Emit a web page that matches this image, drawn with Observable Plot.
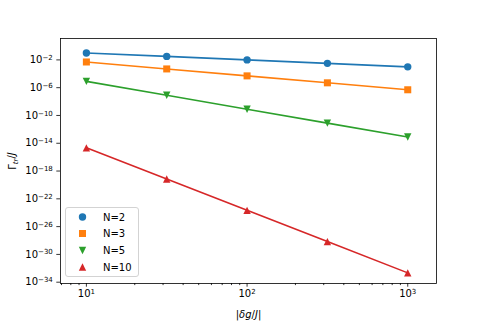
<!DOCTYPE html>
<html><head><meta charset="utf-8">
<script src="https://cdn.jsdelivr.net/npm/d3@7"></script>
<script src="https://cdn.jsdelivr.net/npm/@observablehq/plot@0.6"></script>
<style>
body{margin:0;background:#fff;}
#wrap{position:relative;width:485px;height:323px;font-family:"DejaVu Sans",sans-serif;}
#legend{position:absolute;left:65px;top:207px;width:74px;height:70px;border:1px solid #d3d3d3;border-radius:3px;background:rgba(255,255,255,0.8);box-sizing:border-box;}
#legend svg{position:absolute;left:-1px;top:-1px;}
</style></head><body><div id="wrap"></div>
<script>
// ---- data ----
const xValues = [10, 31.62, 100, 316.2, 1000];
const seriesNames = ["N=2", "N=3", "N=5", "N=10"];
const yN2 = [1.0e-1, 3.2e-2, 1.0e-2, 3.2e-3, 1.0e-3];
const yN3 = [5.0e-3, 5.0e-4, 5.0e-5, 5.0e-6, 5.0e-7];
const yN5 = [8.0e-6, 8.0e-8, 8.0e-10, 8.0e-12, 8.0e-14];
const yN10 = [2.2e-15, 7.0e-20, 2.2e-24, 7.0e-29, 2.2e-33];
const seriesColors = ["#1f77b4", "#ff7f0e", "#2ca02c", "#d62728"];
const xTickValues = [10, 100, 1000];
const xMinorTickValues = [7, 8, 9, 20, 30, 40, 50, 60, 70, 80, 90, 200, 300, 400, 500, 600, 700, 800, 900];
const yTickValues = [1e-2, 1e-6, 1e-10, 1e-14, 1e-18, 1e-22, 1e-26, 1e-30, 1e-34];

// ---- table ----
const ySeries = [yN2, yN3, yN5, yN10];
const rows = [];
seriesNames.forEach((s, i) => xValues.forEach((x, j) => rows.push({series: s, x, y: ySeries[i][j]})));

// ---- marker shapes (matplotlib-like) ----
const rad = size => Math.sqrt(size / Math.PI);
const symCircle = {draw(c, size) { const r = rad(size); c.moveTo(r, 0); c.arc(0, 0, r, 0, 2 * Math.PI); }};
const symSquare = {draw(c, size) { const r = rad(size) * 0.95; c.rect(-r, -r, 2 * r, 2 * r); }};
const symDown = {draw(c, size) { const r = rad(size); c.moveTo(0, r); c.lineTo(-r, -r); c.lineTo(r, -r); c.closePath(); }};
const symUp = {draw(c, size) { const r = rad(size); c.moveTo(0, -r); c.lineTo(-r, r); c.lineTo(r, r); c.closePath(); }};
const symbols = [symCircle, symSquare, symDown, symUp];

const chart = Plot.plot({
  width: 485, height: 323,
  marginLeft: 60, marginRight: 49, marginTop: 38, marginBottom: 40,
  style: {fontFamily: "DejaVu Sans, sans-serif", fontSize: "10px", background: "white", color: "black"},
  x: {type: "log", domain: [6.9, 1510]},
  y: {type: "log", domain: [6.5e-35, 12]},
  color: {domain: seriesNames, range: seriesColors},
  symbol: {domain: seriesNames, range: symbols},
  marks: [
    Plot.axisX(xMinorTickValues, {tickSize: 2.1, tickFormat: () => "", label: null, strokeWidth: 0.8}),
    Plot.axisX(xTickValues, {tickSize: 3.7, tickPadding: 3, strokeWidth: 0.8, tickFormat: d => "10^" + Math.round(Math.log10(d)),
      label: "XLABEL", labelAnchor: "center", labelArrow: "none", labelOffset: 34}),
    Plot.axisY(yTickValues, {tickSize: 3.7, tickPadding: 4, strokeWidth: 0.8, tickFormat: d => "10^" + Math.round(Math.log10(d)),
      label: "YLABEL", labelAnchor: "center", labelArrow: "none", labelOffset: 52}),
    Plot.line(rows, {x: "x", y: "y", z: "series", stroke: "series", strokeWidth: 1.6}),
    Plot.dot(rows, {x: "x", y: "y", fill: "series", symbol: "series", r: 3.7, stroke: null}),
    Plot.frame({stroke: "black", strokeWidth: 0.8})
  ]
});

// rich text: superscripts and math labels
d3.select(chart).selectAll("text").each(function() {
  const s = this.textContent;
  const t = d3.select(this);
  const m = s.match(/^10\^(-?\d+)$/);
  if (m) {
    t.text(null);
    t.append("tspan").text("10");
    t.append("tspan").attr("dy", "-0.45em").attr("font-size", "7px").text(m[1].replace("-", "\u2212"));
  } else if (s === "YLABEL") {
    t.text(null);
    t.append("tspan").text("Γ");
    t.append("tspan").attr("dy", "0.3em").attr("font-size", "7px").attr("font-style", "italic").text("tr");
    t.append("tspan").attr("dy", "-0.3em").text("/");
    t.append("tspan").attr("font-style", "italic").text("J");
  } else if (s === "XLABEL") {
    t.text(null);
    t.append("tspan").text("|");
    t.append("tspan").attr("font-style", "italic").text("δg");
    t.append("tspan").text("/");
    t.append("tspan").attr("font-style", "italic").text("J");
    t.append("tspan").text("|");
  }
});

const wrap = document.getElementById("wrap");
wrap.appendChild(chart);

// legend
const leg = document.createElement("div");
leg.id = "legend";
wrap.appendChild(leg);
const lsvg = d3.select(leg).append("svg").attr("width", 74).attr("height", 70)
  .style("font-family", "DejaVu Sans, sans-serif").style("font-size", "10px");
const rowY = [10, 26.5, 43.5, 60];
seriesNames.forEach((s, i) => {
  lsvg.append("path").attr("transform", `translate(17.5,${rowY[i]})`)
    .attr("d", d3.symbol(symbols[i], Math.PI * 3.7 * 3.7)()).attr("fill", seriesColors[i]);
  lsvg.append("text").attr("x", 38).attr("y", rowY[i]).attr("dy", "0.36em").text(s);
});
</script></body></html>
